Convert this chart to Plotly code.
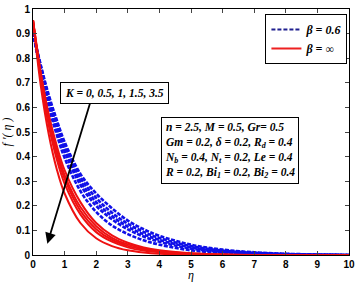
import plotly.graph_objects as go

eta = [0, 0.25, 0.5, 0.75, 1, 1.5, 2, 2.5, 3, 3.5, 4, 5, 6, 7, 8, 9, 10]

# beta = 0.6 (blue dashed), K = 0 ... 3.5
blue_k0 = [0.905, 0.77, 0.65, 0.55, 0.46, 0.33, 0.25, 0.19, 0.14, 0.105, 0.078, 0.042, 0.022, 0.011, 0.005, 0.002, 0.0]
blue_k05 = [0.905, 0.765, 0.64, 0.54, 0.45, 0.315, 0.232, 0.172, 0.127, 0.094, 0.069, 0.036, 0.018, 0.009, 0.004, 0.001, 0.0]
blue_k1 = [0.905, 0.755, 0.63, 0.525, 0.435, 0.30, 0.215, 0.158, 0.115, 0.084, 0.061, 0.031, 0.015, 0.007, 0.003, 0.001, 0.0]
blue_k15 = [0.905, 0.75, 0.62, 0.51, 0.42, 0.285, 0.20, 0.145, 0.104, 0.075, 0.054, 0.026, 0.012, 0.006, 0.002, 0.001, 0.0]
blue_k35 = [0.905, 0.74, 0.60, 0.49, 0.395, 0.26, 0.175, 0.12, 0.085, 0.06, 0.042, 0.019, 0.008, 0.003, 0.001, 0.0, 0.0]

# beta = infinity (red solid), K = 0 ... 3.5
red_k0 = [0.955, 0.74, 0.57, 0.445, 0.345, 0.215, 0.13, 0.08, 0.05, 0.031, 0.019, 0.007, 0.002, 0.0, 0.0, 0.0, 0.0]
red_k05 = [0.955, 0.73, 0.555, 0.425, 0.325, 0.195, 0.117, 0.07, 0.043, 0.026, 0.016, 0.006, 0.002, 0.0, 0.0, 0.0, 0.0]
red_k1 = [0.955, 0.72, 0.54, 0.41, 0.31, 0.18, 0.105, 0.062, 0.037, 0.022, 0.013, 0.005, 0.001, 0.0, 0.0, 0.0, 0.0]
red_k15 = [0.955, 0.71, 0.525, 0.39, 0.29, 0.165, 0.093, 0.054, 0.031, 0.018, 0.011, 0.004, 0.001, 0.0, 0.0, 0.0, 0.0]
red_k35 = [0.955, 0.685, 0.49, 0.35, 0.25, 0.13, 0.068, 0.036, 0.019, 0.01, 0.005, 0.001, 0.0, 0.0, 0.0, 0.0, 0.0]

blue_curves = [blue_k0, blue_k05, blue_k1, blue_k15, blue_k35]
red_curves = [red_k0, red_k05, red_k1, red_k15, red_k35]

x_ticks = [0, 1, 2, 3, 4, 5, 6, 7, 8, 9, 10]
y_ticks = [0, 0.1, 0.2, 0.3, 0.4, 0.5, 0.6, 0.7, 0.8, 0.9, 1]

fig = go.Figure()
for i, ys in enumerate(blue_curves):
    fig.add_trace(go.Scatter(x=eta, y=ys, mode="lines",
                             line=dict(color="#1010e8", width=2.6, dash="4px,1.5px", shape="spline"),
                             name="<b><i>β = 0.6</i></b>", showlegend=False))
for i, ys in enumerate(red_curves):
    fig.add_trace(go.Scatter(x=eta, y=ys, mode="lines", line=dict(color="#ee1111", width=2, shape="spline"),
                             name="<b><i>β = ∞</i></b>", showlegend=False))
# legend entries
fig.add_trace(go.Scatter(x=[None], y=[None], mode="lines", line=dict(color="#202090", width=2, dash="4px,2px"),
                         name="<b><i>β = 0.6</i></b>"))
fig.add_trace(go.Scatter(x=[None], y=[None], mode="lines", line=dict(color="#ee2020", width=2),
                         name="<b><i>β = ∞</i></b>"))

tickfont = dict(family="Liberation Sans", size=10, color="black", weight="bold")
fig.update_xaxes(range=[0, 10], tickvals=x_ticks, ticks="inside", ticklen=4, mirror="ticks", showline=True,
                 linecolor="black", linewidth=1, showgrid=False, zeroline=False, tickfont=tickfont,
                 ticklabeloverflow="allow")
fig.update_yaxes(range=[0, 1], tickvals=y_ticks, ticks="inside", ticklen=4, mirror="ticks", showline=True,
                 linecolor="black", linewidth=1, showgrid=False, zeroline=False, tickfont=tickfont,
                 ticklabeloverflow="allow",
                 title=dict(text="<i>f ′( η )</i>", font=dict(family="Liberation Serif", size=12, color="black"), standoff=2))

# x-axis title
fig.add_annotation(x=0.5, y=0, xref="paper", yref="paper", yshift=-29, yanchor="bottom", showarrow=False,
                   text="<i>η</i>", font=dict(family="Liberation Serif", size=12, color="black"))

fig.add_annotation(x=1.8, y=0.615, ax=0.44, ay=0.04, xref="x", yref="y", axref="x", ayref="y",
                   text="", showarrow=True, arrowhead=0, arrowwidth=1.8, arrowcolor="black", startarrowhead=2,
                   arrowside="start", startarrowsize=1.2)
fig.add_annotation(x=2.58, y=0.66, xref="x", yref="y", text="<b><i>K = 0, 0.5, 1, 1.5, 3.5</i></b>",
                   showarrow=False, font=dict(family="Liberation Serif", size=11.5, color="black"),
                   bgcolor="white", bordercolor="black", borderwidth=1, borderpad=4)
fig.add_annotation(x=4.06, y=0.563, xref="x", yref="y", xanchor="left", yanchor="top", align="left",
                   text="<b><i>n = 2.5, M = 0.5, Gr= 0.5<br>Gm = 0.2, δ = 0.2, R<sub>d</sub> = 0.4<br>"
                        "N<sub>b</sub> = 0.4, N<sub>t</sub> = 0.2, Le = 0.4<br>"
                        "R = 0.2, Bi<sub>1</sub> = 0.2, Bi<sub>2</sub> = 0.4</i></b>",
                   showarrow=False, font=dict(family="Liberation Serif", size=11.5, color="black"),
                   bgcolor="white", bordercolor="black", borderwidth=1, borderpad=3)

fig.update_layout(width=358, height=284, margin=dict(l=33, r=7, t=3, b=29),
                  paper_bgcolor="white", plot_bgcolor="white", showlegend=True,
                  legend=dict(x=0.995, y=0.98, xanchor="right", yanchor="top", bgcolor="white",
                              bordercolor="black", borderwidth=1,
                              font=dict(family="Liberation Serif", size=12, color="black"),
                              tracegroupgap=0, itemwidth=30))
fig.write_html("out.html", config={"displayModeBar": False},
               post_script="document.body.style.margin='0';document.body.style.overflow='hidden';")
